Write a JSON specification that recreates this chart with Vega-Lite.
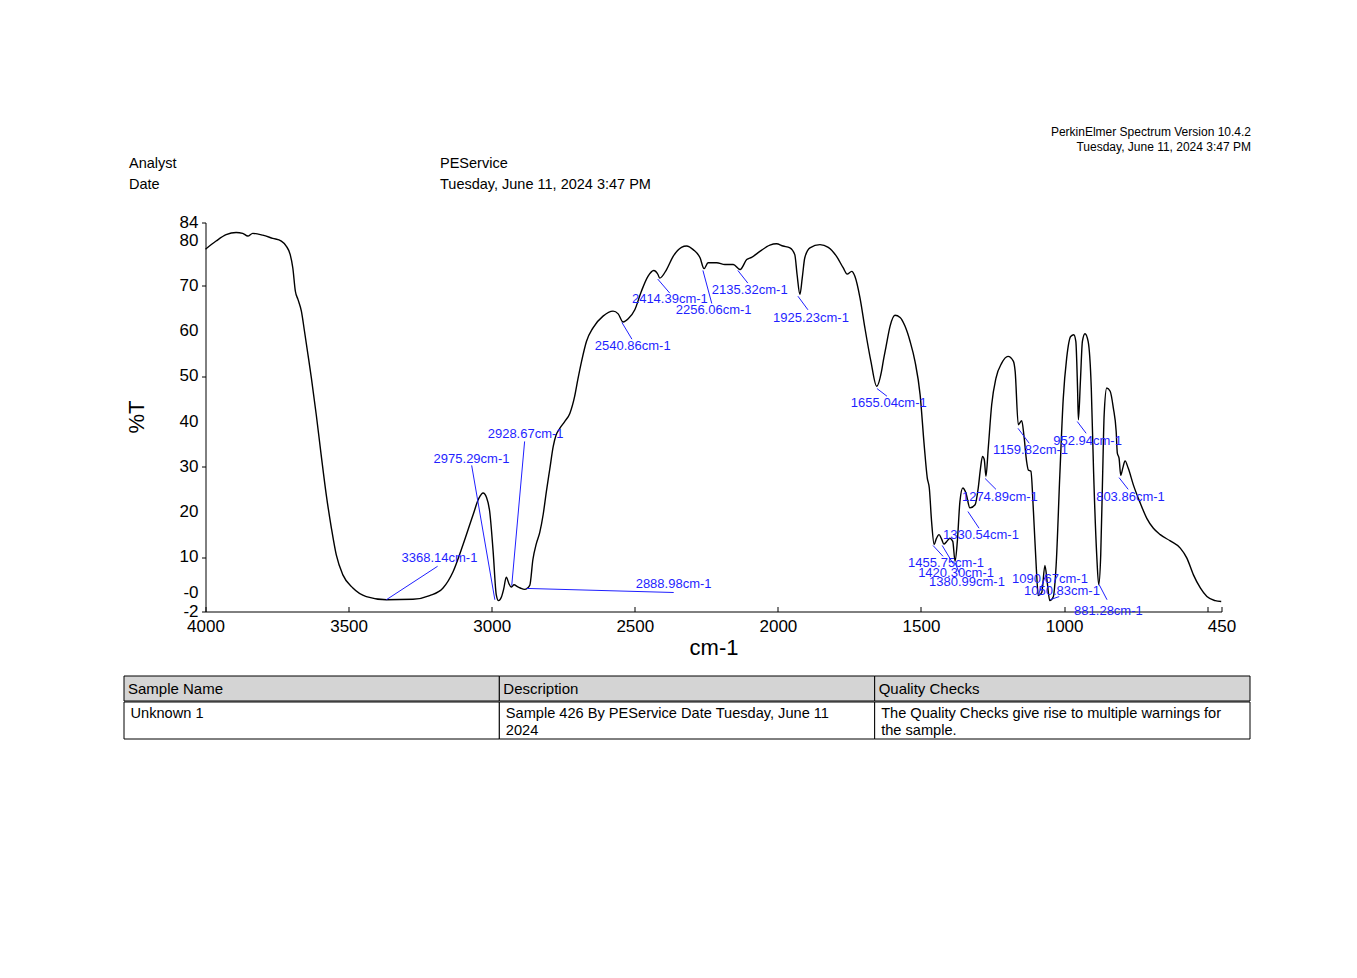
{
  "$schema": "https://vega.github.io/schema/vega-lite/v6.json",
  "background": "white",
  "padding": {"left": 123, "top": 125, "right": 10, "bottom": 10},
  "config": {
    "font": "Liberation Sans",
    "view": {"stroke": "transparent"},
    "axis": {"labelOverlap": false}
  },
  "title": {
    "text": "PerkinElmer Spectrum Version 10.4.2",
    "subtitle": "Tuesday, June 11, 2024 3:47 PM",
    "anchor": "end",
    "fontSize": 12,
    "subtitleFontSize": 12,
    "fontWeight": "normal",
    "color": "black",
    "subtitleColor": "black",
    "subtitlePadding": 3,
    "offset": -1.25,
    "font": "Liberation Sans",
    "subtitleFont": "Liberation Sans"
  },
  "datasets": {
    "spectrum": [
      {"wn":4000,"t":78.1},{"wn":3963,"t":79.9},{"wn":3928,"t":81.3},{"wn":3893,"t":81.8},{"wn":3870,"t":81.6},
      {"wn":3852,"t":81.0},{"wn":3835,"t":81.6},{"wn":3800,"t":81.2},{"wn":3765,"t":80.5},{"wn":3735,"t":79.9},
      {"wn":3718,"t":78.8},{"wn":3704,"t":76.9},{"wn":3695,"t":74.0},{"wn":3686,"t":68.8},{"wn":3677,"t":67.0},
      {"wn":3665,"t":64.4},{"wn":3654,"t":59.9},{"wn":3642,"t":54.8},{"wn":3630,"t":49.6},{"wn":3613,"t":41.5},
      {"wn":3596,"t":32.7},{"wn":3578,"t":23.8},{"wn":3560,"t":16.4},{"wn":3543,"t":10.5},{"wn":3520,"t":6.1},
      {"wn":3485,"t":3.2},{"wn":3438,"t":1.3},{"wn":3368,"t":0.6},{"wn":3275,"t":0.7},{"wn":3217,"t":1.5},
      {"wn":3170,"t":3.2},{"wn":3135,"t":6.8},{"wn":3100,"t":12.8},{"wn":3065,"t":19.4},{"wn":3045,"t":23.0},
      {"wn":3030,"t":24.2},{"wn":3018,"t":23.2},{"wn":3007,"t":20.1},{"wn":2995,"t":11.3},{"wn":2984,"t":1.7},
      {"wn":2976,"t":0.4},{"wn":2966,"t":1.2},{"wn":2958,"t":3.0},{"wn":2949,"t":5.6},{"wn":2940,"t":4.2},
      {"wn":2932,"t":3.4},{"wn":2922,"t":3.9},{"wn":2910,"t":3.5},{"wn":2900,"t":3.2},{"wn":2885,"t":2.9},
      {"wn":2867,"t":3.8},{"wn":2856,"t":9.5},{"wn":2844,"t":13.0},{"wn":2832,"t":15.5},{"wn":2820,"t":19.5},
      {"wn":2809,"t":24.5},{"wn":2797,"t":29.5},{"wn":2785,"t":34.5},{"wn":2775,"t":37.0},{"wn":2762,"t":38.5},
      {"wn":2745,"t":40.0},{"wn":2727,"t":41.8},{"wn":2710,"t":45.6},{"wn":2699,"t":49.3},{"wn":2686,"t":53.3},
      {"wn":2669,"t":57.7},{"wn":2646,"t":60.7},{"wn":2611,"t":63.3},{"wn":2576,"t":64.4},{"wn":2558,"t":63.8},
      {"wn":2541,"t":62.0},{"wn":2523,"t":62.7},{"wn":2500,"t":64.7},{"wn":2477,"t":68.8},{"wn":2454,"t":72.1},
      {"wn":2434,"t":73.4},{"wn":2419,"t":72.5},{"wn":2413,"t":71.7},{"wn":2389,"t":73.6},{"wn":2366,"t":76.5},
      {"wn":2337,"t":78.5},{"wn":2319,"t":78.8},{"wn":2296,"t":78.0},{"wn":2272,"t":76.2},{"wn":2258,"t":73.8},
      {"wn":2244,"t":75.1},{"wn":2214,"t":75.1},{"wn":2185,"t":74.7},{"wn":2156,"t":74.7},{"wn":2132,"t":73.6},
      {"wn":2109,"t":75.8},{"wn":2092,"t":76.3},{"wn":2063,"t":77.6},{"wn":2028,"t":79.0},{"wn":2005,"t":79.3},
      {"wn":1982,"t":78.8},{"wn":1958,"t":78.4},{"wn":1941,"t":76.9},{"wn":1933,"t":72.5},{"wn":1923,"t":68.1},
      {"wn":1915,"t":71.7},{"wn":1906,"t":76.2},{"wn":1888,"t":78.4},{"wn":1853,"t":79.1},{"wn":1824,"t":78.5},
      {"wn":1795,"t":76.5},{"wn":1772,"t":74.0},{"wn":1758,"t":72.6},{"wn":1742,"t":73.2},{"wn":1731,"t":72.1},
      {"wn":1713,"t":67.3},{"wn":1696,"t":60.7},{"wn":1675,"t":53.3},{"wn":1655,"t":47.8},{"wn":1638,"t":51.1},
      {"wn":1632,"t":53.3},{"wn":1622,"t":56.6},{"wn":1608,"t":61.1},{"wn":1591,"t":63.5},{"wn":1573,"t":63.0},
      {"wn":1556,"t":61.1},{"wn":1538,"t":57.7},{"wn":1521,"t":53.3},{"wn":1503,"t":45.9},{"wn":1489,"t":34.9},
      {"wn":1478,"t":27.5},{"wn":1471,"t":25.3},{"wn":1463,"t":17.9},{"wn":1454,"t":12.8},{"wn":1447,"t":14.0},
      {"wn":1437,"t":15.0},{"wn":1428,"t":14.0},{"wn":1420,"t":12.9},{"wn":1410,"t":13.5},{"wn":1399,"t":14.2},
      {"wn":1389,"t":13.5},{"wn":1381,"t":9.1},{"wn":1373,"t":13.5},{"wn":1364,"t":22.3},{"wn":1354,"t":25.3},
      {"wn":1343,"t":24.2},{"wn":1329,"t":20.9},{"wn":1311,"t":21.6},{"wn":1300,"t":25.3},{"wn":1292,"t":29.7},
      {"wn":1285,"t":32.3},{"wn":1279,"t":31.6},{"wn":1273,"t":27.9},{"wn":1265,"t":34.1},{"wn":1253,"t":43.7},
      {"wn":1238,"t":49.6},{"wn":1218,"t":52.9},{"wn":1196,"t":54.4},{"wn":1177,"t":53.3},{"wn":1171,"t":51.1},
      {"wn":1160,"t":39.3},{"wn":1148,"t":40.2},{"wn":1140,"t":36.7},{"wn":1131,"t":31.2},{"wn":1125,"t":29.3},
      {"wn":1116,"t":29.0},{"wn":1107,"t":20.0},{"wn":1097,"t":7.5},{"wn":1090,"t":1.5},{"wn":1078,"t":2.2},
      {"wn":1067,"t":8.2},{"wn":1059,"t":4.5},{"wn":1050,"t":0.4},{"wn":1038,"t":1.2},{"wn":1028,"t":8.0},
      {"wn":1015,"t":28.0},{"wn":1003,"t":45.0},{"wn":991,"t":54.0},{"wn":977,"t":58.8},{"wn":966,"t":59.2},
      {"wn":959,"t":57.7},{"wn":953,"t":47.4},{"wn":950,"t":40.4},{"wn":943,"t":48.9},{"wn":936,"t":57.7},
      {"wn":927,"t":59.4},{"wn":916,"t":57.7},{"wn":905,"t":47.4},{"wn":897,"t":29.0},{"wn":886,"t":10.5},
      {"wn":879,"t":3.9},{"wn":872,"t":10.5},{"wn":865,"t":29.0},{"wn":860,"t":41.5},{"wn":851,"t":47.4},
      {"wn":839,"t":46.7},{"wn":828,"t":43.0},{"wn":818,"t":37.8},{"wn":814,"t":33.0},{"wn":808,"t":31.9},
      {"wn":802,"t":28.1},{"wn":795,"t":29.7},{"wn":787,"t":31.3},{"wn":776,"t":29.7},{"wn":758,"t":26.0},
      {"wn":734,"t":22.0},{"wn":711,"t":18.6},{"wn":688,"t":16.4},{"wn":664,"t":15.0},{"wn":629,"t":13.6},
      {"wn":594,"t":12.0},{"wn":571,"t":9.8},{"wn":548,"t":6.1},{"wn":524,"t":3.2},{"wn":501,"t":1.3},
      {"wn":472,"t":0.4},{"wn":451,"t":0.2}
    ],
    "peaks": [
      {"label":"3368.14cm-1","pw":3368.14,"pt":0.6,"ew":3189,"et":8.0,"lw":3315,"lt":9.9},
      {"label":"2975.29cm-1","pw":2989,"pt":0.6,"ew":3070,"et":30.3,"lw":3203,"lt":31.8},
      {"label":"2928.67cm-1","pw":2930,"pt":3.7,"ew":2885,"et":35.6,"lw":3014,"lt":37.2},
      {"label":"2888.98cm-1","pw":2878,"pt":3.1,"ew":2364,"et":2.2,"lw":2497,"lt":4.0},
      {"label":"2540.86cm-1","pw":2545,"pt":61.9,"ew":2510,"et":58.2,"lw":2640,"lt":56.6},
      {"label":"2414.39cm-1","pw":2420,"pt":71.5,"ew":2378,"et":68.4,"lw":2510,"lt":67.0},
      {"label":"2256.06cm-1","pw":2262,"pt":73.4,"ew":2231,"et":66.1,"lw":2357,"lt":64.6},
      {"label":"2135.32cm-1","pw":2140,"pt":73.4,"ew":2105,"et":70.6,"lw":2231,"lt":69.0},
      {"label":"1925.23cm-1","pw":1930,"pt":67.7,"ew":1895,"et":64.7,"lw":2017,"lt":62.8},
      {"label":"1655.04cm-1","pw":1654,"pt":47.3,"ew":1619,"et":45.6,"lw":1745,"lt":44.2},
      {"label":"1159.82cm-1","pw":1161,"pt":38.5,"ew":1122,"et":35.2,"lw":1248,"lt":33.6},
      {"label":"952.94cm-1","pw":954,"pt":40.0,"ew":923,"et":37.4,"lw":1038,"lt":35.8},
      {"label":"1274.89cm-1","pw":1276,"pt":27.4,"ew":1238,"et":25.0,"lw":1357,"lt":23.4},
      {"label":"1330.54cm-1","pw":1336,"pt":20.1,"ew":1297,"et":16.4,"lw":1423,"lt":15.0},
      {"label":"1455.75cm-1","pw":1458,"pt":12.6,"ew":1423,"et":10.2,"lw":1545,"lt":8.8},
      {"label":"1420.30cm-1","pw":1426,"pt":12.6,"ew":1388,"et":8.6,"lw":1510,"lt":6.6},
      {"label":"1380.99cm-1","pw":1381,"pt":8.8,"ew":1367,"et":6.6,"lw":1472,"lt":4.6},
      {"label":"1090.67cm-1","pw":1091,"pt":1.5,"ew":1063,"et":6.2,"lw":1182,"lt":5.1},
      {"label":"1050.83cm-1","pw":1049,"pt":0.6,"ew":1017,"et":1.3,"lw":1140,"lt":2.6},
      {"label":"881.28cm-1","pw":878,"pt":4.0,"ew":850,"et":0.6,"lw":965,"lt":-1.8},
      {"label":"803.86cm-1","pw":808,"pt":27.6,"ew":776,"et":25.0,"lw":888,"lt":23.4}
    ],
    "yticks": [
      {"v": 84, "lab": "84"}, {"v": 80, "lab": "80"}, {"v": 70, "lab": "70"}, {"v": 60, "lab": "60"},
      {"v": 50, "lab": "50"}, {"v": 40, "lab": "40"}, {"v": 30, "lab": "30"}, {"v": 20, "lab": "20"},
      {"v": 10, "lab": "10"}, {"v": 0, "lab": "-0"}, {"v": -2, "lab": "-2"}
    ]
  },
  "spacing": 16.5,
  "vconcat": [
    {
      "width": 311,
      "height": 42,
      "data": {"values": [
        {"row": "Analyst", "col": "name", "text": "Analyst"},
        {"row": "Analyst", "col": "value", "text": "PEService"},
        {"row": "Date", "col": "name", "text": "Date"},
        {"row": "Date", "col": "value", "text": "Tuesday, June 11, 2024 3:47 PM"}
      ]},
      "mark": {"type": "text", "align": "left", "baseline": "middle", "fontSize": 14.5, "dx": 5, "color": "black"},
      "encoding": {
        "x": {"field": "col", "type": "nominal", "sort": ["name", "value"], "scale": {"type": "point", "padding": 0}, "axis": null},
        "y": {"field": "row", "type": "nominal", "sort": ["Analyst", "Date"], "scale": {"type": "band", "paddingInner": 0, "paddingOuter": 0}, "axis": null},
        "text": {"field": "text"}
      }
    },
    {
      "spacing": 25.5,
      "hconcat": [
        {
          "width": 25,
          "height": 389,
          "data": {"values": [{"label": "%T"}]},
          "mark": {"type": "text", "angle": 270, "fontSize": 22, "align": "center", "baseline": "middle", "color": "black"},
          "encoding": {"text": {"field": "label"}}
        },
        {
          "width": 1016,
          "height": 389,
          "layer": [
            {
              "data": {"name": "spectrum"},
              "mark": {"type": "line", "color": "black", "strokeWidth": 1.4, "interpolate": "monotone"},
              "encoding": {
                "x": {
                  "field": "wn", "type": "quantitative", "title": "cm-1",
                  "scale": {"domain": [450, 4000], "reverse": true, "nice": false, "zero": false},
                  "axis": {
                    "values": [4000, 3500, 3000, 2500, 2000, 1500, 1000, 500, 450],
                    "format": "d",
                    "labelExpr": "datum.value == 500 ? '' : datum.label",
                    "labelFontSize": 17, "labelColor": "black", "labelFlush": false, "labelOverlap": false,
                    "tickSize": -5, "tickColor": "black", "domainColor": "black", "grid": false,
                    "labelPadding": 12, "titleFontSize": 22, "titleFontWeight": "normal", "titleColor": "black", "titlePadding": 2.5
                  }
                },
                "y": {
                  "field": "t", "type": "quantitative", "title": null,
                  "scale": {"domain": [-2, 84], "nice": false, "zero": false},
                  "axis": {
                    "values": [84, 80, 70, 60, 50, 40, 30, 20, 10, 0, -2],
                    "labels": false,
                    "tickSize": 4, "tickColor": "black", "domainColor": "black", "grid": false,
                    "minExtent": 30, "maxExtent": 30
                  }
                }
              }
            },
            {
              "data": {"name": "yticks"},
              "transform": [{"filter": "datum.v != 0"}],
              "mark": {"type": "text", "align": "right", "baseline": "middle", "fontSize": 17, "dx": -7, "color": "black"},
              "encoding": {
                "x": {"datum": 4000, "type": "quantitative"},
                "y": {"field": "v", "type": "quantitative", "title": null},
                "text": {"field": "lab"}
              }
            },
            {
              "data": {"name": "yticks"},
              "transform": [{"filter": "datum.v == 0"}],
              "mark": {"type": "text", "align": "right", "baseline": "bottom", "fontSize": 17, "dx": -7, "dy": 0, "color": "black"},
              "encoding": {
                "x": {"datum": 4000, "type": "quantitative"},
                "y": {"field": "v", "type": "quantitative", "title": null},
                "text": {"field": "lab"}
              }
            },
            {
              "data": {"name": "peaks"},
              "mark": {"type": "rule", "color": "#1f1fff", "strokeWidth": 1},
              "encoding": {
                "x": {"field": "pw", "type": "quantitative", "title": "cm-1"},
                "y": {"field": "pt", "type": "quantitative", "title": null},
                "x2": {"field": "ew"},
                "y2": {"field": "et"}
              }
            },
            {
              "data": {"name": "peaks"},
              "mark": {"type": "text", "align": "left", "baseline": "middle", "fontSize": 13, "color": "#1f1fff"},
              "encoding": {
                "x": {"field": "lw", "type": "quantitative", "title": "cm-1"},
                "y": {"field": "lt", "type": "quantitative", "title": null},
                "text": {"field": "label"}
              }
            }
          ]
        }
      ]
    },
    {
      "spacing": -1,
      "vconcat": [
        {
          "width": 1126,
          "height": 25,
          "data": {"values": [
            {"col": "Sample Name", "text": "Sample Name"},
            {"col": "Description", "text": "Description"},
            {"col": "Quality Checks", "text": "Quality Checks"}
          ]},
          "layer": [
            {
              "mark": {"type": "rect", "fill": "#d4d4d4", "stroke": "black", "strokeWidth": 1},
              "encoding": {
                "x": {"field": "col", "type": "nominal", "sort": ["Sample Name", "Description", "Quality Checks"], "scale": {"type": "band", "paddingInner": 0, "paddingOuter": 0}, "axis": null}
              }
            },
            {
              "mark": {"type": "text", "align": "left", "baseline": "middle", "fontSize": 15, "dx": 4, "color": "black"},
              "encoding": {
                "x": {"field": "col", "type": "nominal", "sort": ["Sample Name", "Description", "Quality Checks"], "bandPosition": 0, "axis": null},
                "text": {"field": "text"}
              }
            }
          ]
        },
        {
          "width": 1126,
          "height": 37,
          "data": {"values": [
            {"col": "Sample Name", "text": "Unknown 1"},
            {"col": "Description", "text": "Sample 426 By PEService Date Tuesday, June 11\n2024"},
            {"col": "Quality Checks", "text": "The Quality Checks give rise to multiple warnings for\nthe sample."}
          ]},
          "layer": [
            {
              "mark": {"type": "rect", "fill": "white", "stroke": "black", "strokeWidth": 1},
              "encoding": {
                "x": {"field": "col", "type": "nominal", "sort": ["Sample Name", "Description", "Quality Checks"], "scale": {"type": "band", "paddingInner": 0, "paddingOuter": 0}, "axis": null}
              }
            },
            {
              "mark": {"type": "text", "align": "left", "baseline": "top", "fontSize": 14.6, "lineHeight": 17, "lineBreak": "\n", "dx": 6.5, "dy": -15, "color": "black"},
              "encoding": {
                "x": {"field": "col", "type": "nominal", "sort": ["Sample Name", "Description", "Quality Checks"], "bandPosition": 0, "axis": null},
                "text": {"field": "text"}
              }
            }
          ]
        }
      ]
    }
  ]
}
